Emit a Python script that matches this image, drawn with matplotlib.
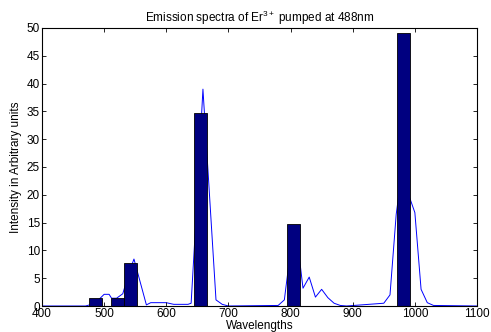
import matplotlib.pyplot as plt

plt.rcParams['font.family'] = ['Liberation Sans', 'DejaVu Sans']
plt.rcParams['mathtext.fontset'] = 'custom'
plt.rcParams['mathtext.rm'] = 'Liberation Sans'
plt.rcParams['mathtext.it'] = 'Liberation Sans'

# bar data (peak intensities)
bar_x = [486, 521, 542, 655, 804, 982]
bar_h = [1.5, 1.4, 7.7, 34.7, 14.7, 49.1]

# measured spectrum (line)
wl = [400, 470, 480, 490, 500, 508, 512, 520, 530, 540, 548, 568, 575, 600, 612,
      635, 640, 650, 659, 680, 690, 700, 780, 790, 800, 810, 820, 830, 840, 850,
      860, 870, 880, 890, 950, 960, 970, 980, 990, 1000, 1010, 1020, 1030, 1100]
inten = [0, 0, 0.3, 1.0, 2.1, 2.1, 1.4, 1.4, 2.2, 6.0, 8.45, 0.2, 0.6, 0.6, 0.3,
         0.3, 0.5, 20, 39, 1.1, 0.3, 0, 0.1, 1.1, 10, 12.6, 3.2, 5.2, 1.6, 3.0,
         1.5, 0.5, 0.1, 0, 0.5, 2.0, 16.5, 25, 20, 16.8, 3.0, 0.6, 0.1, 0]

fig = plt.figure(figsize=(4.91, 3.32), dpi=100)
ax = fig.add_axes([0.0855, 0.0783, 0.886, 0.8374])

ax.plot(wl, inten, color='#0000ff', linewidth=0.7, zorder=1)
ax.bar(bar_x, bar_h, width=21, color='#000080', edgecolor='black',
       linewidth=0.6, zorder=2)

ax.set_xlim(400, 1100)
ax.set_ylim(0, 50)
ax.set_xticks(range(400, 1101, 100))
ax.set_yticks(range(0, 51, 5))
ax.tick_params(direction='in', top=True, right=True, length=3, width=0.6,
               labelsize=8.5, pad=1.5)
for s in ax.spines.values():
    s.set_linewidth(0.8)

ax.set_title('Emission spectra of Er$^{3+}$ pumped at 488nm', fontsize=8.5, pad=4)
ax.set_xlabel('Wavelengths', fontsize=8.5, labelpad=0)
ax.set_ylabel('Intensity in Arbitrary units', fontsize=8.5, labelpad=3)

fig.savefig('out.png', dpi=100)
